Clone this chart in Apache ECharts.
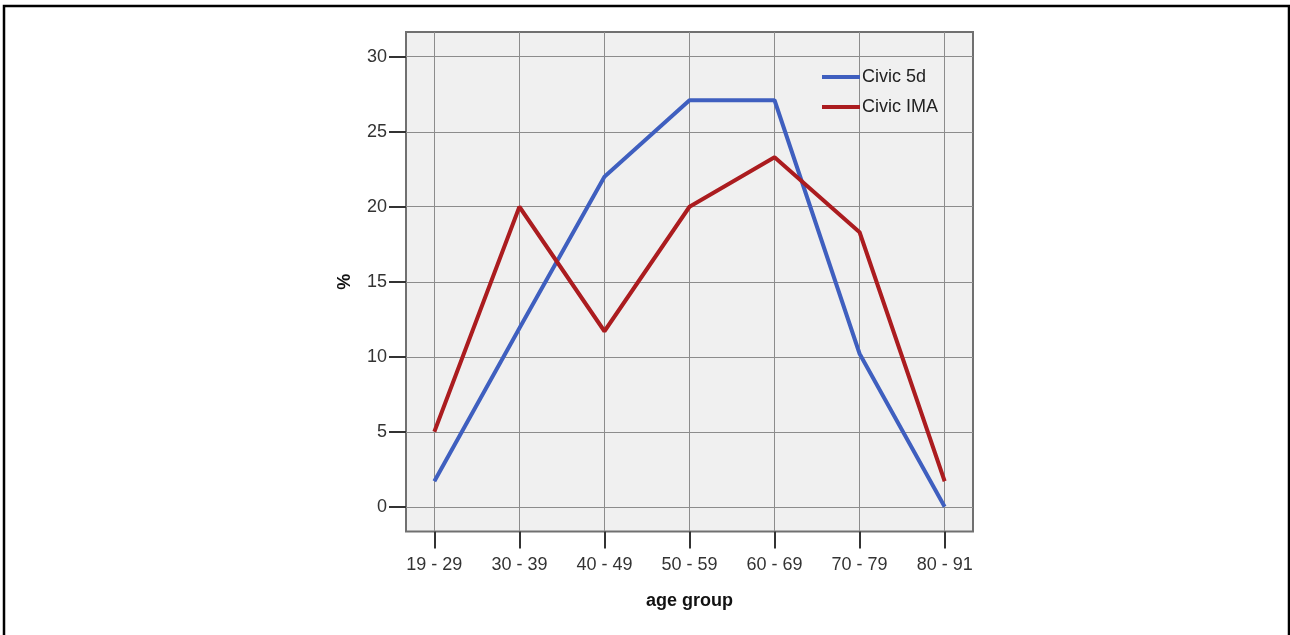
<!DOCTYPE html>
<html><head><meta charset="utf-8">
<script src="https://cdn.jsdelivr.net/npm/echarts@6/dist/echarts.min.js"></script>
<style>html,body{margin:0;padding:0;background:#fff}#c{width:1290px;height:635px}</style>
</head><body><div id="c"></div>
<script>
const categories = ['19 - 29','30 - 39','40 - 49','50 - 59','60 - 69','70 - 79','80 - 91'];
const civic5d = [1.7, 11.9, 22.0, 27.1, 27.1, 10.2, 0];
const civicIMA = [5.0, 20.0, 11.7, 20.0, 23.3, 18.3, 1.7];
const yTicks = [0, 5, 10, 15, 20, 25, 30];
const xTicks = categories.map((c, i) => i);

const font = 'Liberation Sans, Arial, sans-serif';
const chart = echarts.init(document.getElementById('c'));
chart.setOption({
  animation: false,
  backgroundColor: '#fff',
  graphic: [{
    type: 'rect', shape: {x: 4, y: 6, width: 1285, height: 650},
    style: {fill: 'none', stroke: '#000', lineWidth: 2.5}, silent: true, z: 100
  }],
  grid: {left: 406, right: 317, top: 32, bottom: 103.5, show: true,
    backgroundColor: '#f0f0f0', borderColor: '#707070', borderWidth: 2},
  legend: {
    orient: 'vertical', left: 817, top: 62, itemWidth: 38, itemHeight: 4, itemGap: 10,
    icon: 'rect',
    textStyle: {fontFamily: font, fontSize: 18, color: '#222', lineHeight: 20, padding: [0, 0, 0, -3]},
    data: ['Civic 5d', 'Civic IMA']
  },
  xAxis: {
    type: 'value', min: -1/3, max: 6 + 1/3,
    name: 'age group', nameLocation: 'middle', nameGap: 61,
    nameTextStyle: {fontFamily: font, fontSize: 18, fontWeight: 'bold', color: '#111'},
    axisLine: {show: false, onZero: false},
    axisTick: {show: true, length: 17, customValues: xTicks, lineStyle: {color: '#333', width: 2}},
    axisLabel: {customValues: xTicks, margin: 25, fontFamily: font, fontSize: 18, color: '#333',
      formatter: v => categories[Math.round(v)]},
    splitLine: {show: true, lineStyle: {color: '#8c8c8c', width: 1}}
  },
  yAxis: {
    type: 'value', min: -1.65, max: 31.65,
    name: '%', nameLocation: 'middle', nameGap: 52, nameRotate: 90,
    nameTextStyle: {fontFamily: font, fontSize: 18, fontWeight: 'bold', color: '#111'},
    axisLine: {show: false, onZero: false},
    axisTick: {show: true, length: 17, customValues: yTicks, lineStyle: {color: '#333', width: 2}},
    axisLabel: {customValues: yTicks, margin: 19, fontFamily: font, fontSize: 18, color: '#333'},
    splitLine: {show: true, lineStyle: {color: '#8c8c8c', width: 1}}
  },
  series: [
    {name: 'Civic 5d', type: 'line', data: civic5d.map((v, i) => [i, v]),
      symbol: 'none', lineStyle: {color: '#3f5fbf', width: 4}, itemStyle: {color: '#3f5fbf'}},
    {name: 'Civic IMA', type: 'line', data: civicIMA.map((v, i) => [i, v]),
      symbol: 'none', lineStyle: {color: '#ab1c1f', width: 4}, itemStyle: {color: '#ab1c1f'}}
  ]
});
</script></body></html>
